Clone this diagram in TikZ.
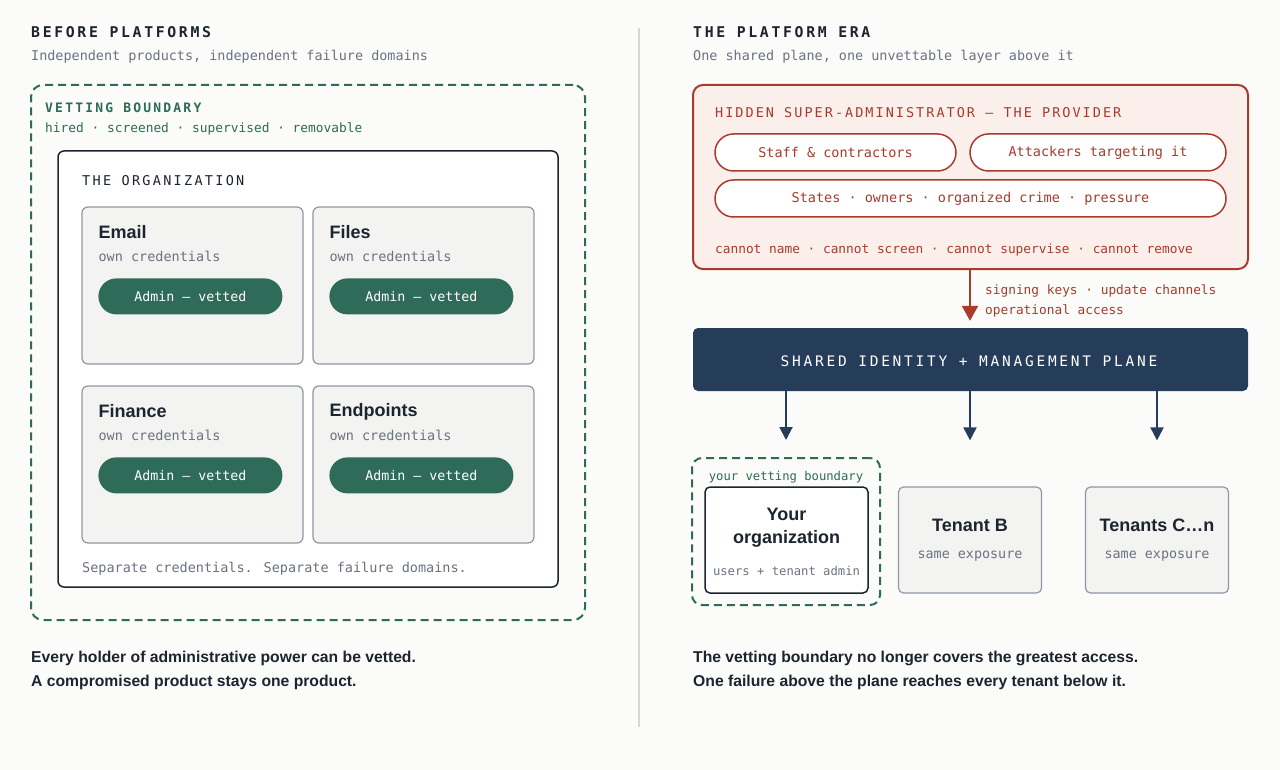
\documentclass[tikz,border=0pt]{standalone}
\usepackage{fontspec}
\setmainfont{Liberation Sans}
\newfontfamily\mono{DejaVu Sans Mono}
\newfontfamily\monols{DejaVu Sans Mono}[LetterSpace=17]
\newfontfamily\monolsA{DejaVu Sans Mono}[LetterSpace=18]
\newfontfamily\monolsB{DejaVu Sans Mono}[LetterSpace=15]
\newfontfamily\monolsC{DejaVu Sans Mono}[LetterSpace=19]
\usetikzlibrary{arrows.meta,calc}
\newcommand\fsz[1]{\fontsize{#1}{#1}\selectfont}
\definecolor{bgc}{HTML}{FBFBF9}
\definecolor{darkc}{HTML}{1C2430}
\definecolor{grayt}{HTML}{6B7280}
\definecolor{greenc}{HTML}{2E6B58}
\definecolor{redc}{HTML}{A83B2B}
\definecolor{pinkc}{HTML}{FBEFEC}
\definecolor{navyc}{HTML}{263D5A}
\definecolor{boxfill}{HTML}{F3F3F1}
\definecolor{boxstroke}{HTML}{8E98A6}
\definecolor{divc}{HTML}{D6D6D4}
\tikzset{
  txt/.style={inner sep=0, anchor=west},
  headt/.style={txt, text=darkc, font=\monolsA\bfseries\fsz{14.8}},
  subhead/.style={txt, text=grayt, font=\mono\fsz{13.45}},
  titlet/.style={txt, text=darkc, font=\bfseries\fsz{18}},
  subt/.style={txt, text=grayt, font=\mono\fsz{13.5}},
  bottomt/.style={txt, text=darkc, font=\bfseries\fsz{15.7}},
  dashbox/.style={draw=greenc, line width=2pt, dash pattern=on 8pt off 5pt},
  prod/.style={draw=boxstroke, fill=boxfill, line width=1.2pt, rounded corners=6pt,
    minimum width=221pt, minimum height=157pt, inner sep=0},
  admin/.style={fill=greenc, text=white, rounded corners=18pt, minimum width=184pt,
    minimum height=36pt, inner sep=0, font=\mono\fsz{13.3}},
  redpill/.style={draw=redc, fill=white, line width=1.5pt, rounded corners=18.5pt,
    minimum height=37pt, inner sep=0, text=redc, font=\mono\fsz{13.5}},
  redt/.style={txt, text=redc, font=\mono\fsz{12.8}},
  tenant/.style={draw=boxstroke, fill=boxfill, line width=1.2pt, rounded corners=5pt,
    minimum width=143pt, minimum height=106pt, inner sep=0},
  navyarr/.style={navyc, line width=2pt, -{Triangle[length=13pt,width=13pt]}},
}
\begin{document}
\begin{tikzpicture}[x=1pt,y=-1pt]
\useasboundingbox (0,0) rectangle (1280,770);
\fill[bgc] (0,0) rectangle (1280,770);
\draw[divc, line width=1.2pt] (639,28) -- (639,727);

% ---------------- LEFT ----------------
\node[headt] (hL) at (31,32) {BEFORE PLATFORMS};
\node[subhead] (sL) at (31,57) {Independent products, independent failure domains};

\node[dashbox, rounded corners=12pt, minimum width=554pt, minimum height=535pt, inner sep=0] (vetbox) at (308,352.5) {};
\node[txt, text=greenc, font=\monols\bfseries\fsz{13}] (vetT) at (45,108) {VETTING BOUNDARY};
\node[txt, text=greenc, font=\mono\fsz{12.85}] (vetS) at (45,128.5) {hired · screened · supervised · removable};

\node[draw=darkc, fill=white, line width=1.5pt, rounded corners=6pt, minimum width=500pt, minimum height=436pt, inner sep=0] (org) at (308,369) {};
\node[txt, text=darkc, font=\monols\fsz{13.5}] (orgT) at (82,181) {THE ORGANIZATION};

\node[prod] (email) at (192.5,285.5) {};
\node[titlet] (emailT) at ($(email.north west)+(17,26)$) {Email};
\node[subt] (emailS) at ($(email.north west)+(17,50.5)$) {own credentials};
\node[admin] (emailA) at ($(email.north west)+(109,90)$) {Admin — vetted};

\node[prod] (files) at (423.5,285.5) {};
\node[titlet] (filesT) at ($(files.north west)+(17,26)$) {Files};
\node[subt] (filesS) at ($(files.north west)+(17,50.5)$) {own credentials};
\node[admin] (filesA) at ($(files.north west)+(109,90)$) {Admin — vetted};

\node[prod] (fin) at (192.5,464.5) {};
\node[titlet] (finT) at ($(fin.north west)+(17,26)$) {Finance};
\node[subt] (finS) at ($(fin.north west)+(17,50.5)$) {own credentials};
\node[admin] (finA) at ($(fin.north west)+(109,90)$) {Admin — vetted};

\node[prod] (endp) at (423.5,464.5) {};
\node[titlet] (endpT) at ($(endp.north west)+(17,26)$) {Endpoints};
\node[subt] (endpS) at ($(endp.north west)+(17,50.5)$) {own credentials};
\node[admin] (endpA) at ($(endp.north west)+(109,90)$) {Admin — vetted};

\node[subt] (sep) at (82,569) {Separate credentials. Separate failure domains.};

\node[bottomt] (bL1) at (31,658) {Every holder of administrative power can be vetted.};
\node[bottomt] (bL2) at (31,682) {A compromised product stays one product.};

% ---------------- RIGHT ----------------
\node[headt] (hR) at (693,32) {THE PLATFORM ERA};
\node[subhead] (sR) at (693,57) {One shared plane, one unvettable layer above it};

\node[draw=redc, fill=pinkc, line width=2pt, rounded corners=10pt, minimum width=555pt, minimum height=184pt, inner sep=0] (provider) at (970.5,177) {};
\node[txt, text=redc, font=\monolsB\fsz{13.5}] (provT) at (715,113) {HIDDEN SUPER-ADMINISTRATOR — THE PROVIDER};
\node[redpill, minimum width=241pt] (staff) at (835.5,152.5) {Staff \& contractors};
\node[redpill, minimum width=256pt] (attack) at (1098,152.5) {Attackers targeting it};
\node[redpill, minimum width=511pt] (states) at (970.5,198.5) {States · owners · organized crime · pressure};
\node[redt] (cannot) at (715,250) {cannot name · cannot screen · cannot supervise · cannot remove};

\node[fill=navyc, rounded corners=5pt, minimum width=555pt, minimum height=63pt, inner sep=0] (plane) at (970.5,359.5) {};
\node[inner sep=0, text=white, font=\monolsC\fsz{14.5}] (planeT) at (969,361.5) {SHARED IDENTITY + MANAGEMENT PLANE};

\node[tenant] (tB) at (970,540) {};
\node[inner sep=0, text=darkc, font=\bfseries\fsz{18}] (tBT) at (970,525) {Tenant B};
\node[inner sep=0, text=grayt, font=\mono\fsz{13.4}] (tBS) at (970,556) {same exposure};

\node[tenant] (tC) at (1157,540) {};
\node[inner sep=0, text=darkc, font=\bfseries\fsz{18}] (tCT) at (1157,525) {Tenants C…n};
\node[inner sep=0, text=grayt, font=\mono\fsz{13.4}] (tCS) at (1157,556) {same exposure};

\draw[redc, line width=2pt, -{Triangle[length=15pt,width=16pt]}, shorten >=7pt] (provider.south -| tB.north) -- (plane.north -| tB.north);
\node[redt] (sig1) at (985,291) {signing keys · update channels};
\node[redt] (sig2) at (985,311) {operational access};

\node[dashbox, rounded corners=10pt, minimum width=188pt, minimum height=147pt, inner sep=0] (yourdash) at (786,531.5) {};
\node[inner sep=0, text=greenc, font=\mono\fsz{12.2}] (yourdashT) at (786,477.5) {your vetting boundary};
\node[draw=darkc, fill=white, line width=1.5pt, rounded corners=5pt, minimum width=163pt, minimum height=106pt, inner sep=0] (yourorg) at (786.5,540) {};
\node[inner sep=0, align=center, text=darkc, font=\bfseries\fsz{18}, execute at begin node=\setlength{\baselineskip}{23pt}] (yourorgT) at (786.5,528) {Your\\organization};
\node[inner sep=0, text=grayt, font=\mono\fsz{12.2}] (yourorgS) at (786.5,570.5) {users + tenant admin};

\draw[navyarr, shorten >=17pt] (plane.south -| yourdash.north) -- (yourdash.north);
\draw[navyarr, shorten >=46pt] (plane.south -| tB.north) -- (tB.north);
\draw[navyarr, shorten >=46pt] (plane.south -| tC.north) -- (tC.north);

\node[bottomt] (bR1) at (693,658) {The vetting boundary no longer covers the greatest access.};
\node[bottomt] (bR2) at (693,682) {One failure above the plane reaches every tenant below it.};
\end{tikzpicture}
\end{document}
